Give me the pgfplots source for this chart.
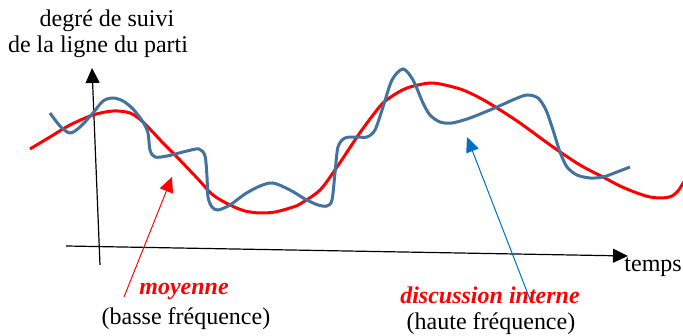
\documentclass[border=0pt]{standalone}
\usepackage{pgfplots}
\pgfplotsset{compat=1.18}
\usepackage{fontspec}
\setmainfont{Liberation Serif}
\usetikzlibrary{arrows.meta}
\definecolor{curveblue}{RGB}{68,114,158}
\definecolor{arrowblue}{RGB}{0,112,192}
\begin{document}
\begin{tikzpicture}
\begin{axis}[at={(0,0)},anchor=south west,
  scale only axis, width=683pt, height=336pt,
  xmin=0, xmax=683, ymin=0, ymax=336, y dir=reverse,
  hide axis, clip=false]
% axes
\addplot[black, line width=1.2pt, -{Triangle[length=15pt,width=14pt]}] coordinates {(100,265) (92,68)};
\addplot[black, line width=1.2pt, -{Triangle[length=15pt,width=14pt]}] coordinates {(66,246) (628,256)};
% moyenne (red)
\addplot[red, line width=3pt, smooth] coordinates {
(30,149) (50,137) (70,125) (93,115) (113,111) (130,113) (143,122) (163,143) (177,157)
(197,178) (213,195) (230,205) (245,211) (260,213) (275,212) (290,208) (300,204) (320,190)
(337,167) (357,137) (370,119) (383,103) (397,93) (410,87) (430,83) (445,85) (463,90)
(480,98) (497,108) (520,123) (553,147) (580,165) (603,177) (620,186) (637,193) (650,197)
(663,198) (672,196) (678,191) (685,180)};
% discussion interne (blue)
\addplot[curveblue, line width=3pt, smooth] coordinates {
(50,113) (60,126) (70,133) (80,127) (93,113) (103,101) (113,98) (123,101) (133,109)
(143,122) (148,133) (150,150) (155,157) (167,156) (187,151) (199,149) (205,156) (207,177)
(208,197) (212,207) (218,210) (230,205) (245,194) (260,186) (273,183) (290,190) (305,199)
(318,205) (327,206) (332,200) (335,173) (338,147) (345,138) (357,137) (367,137) (375,130)
(383,107) (392,80) (403,69) (413,80) (423,103) (430,115) (440,122) (452,123) (470,118)
(497,107) (515,99) (527,95) (538,98) (546,110) (553,130) (560,152) (567,167) (577,175)
(590,178) (603,177) (617,172) (630,167)};
% pointer arrows
\addplot[red, line width=1pt, -{Triangle[length=15pt,width=14pt]}] coordinates {(124,297) (172,177)};
\addplot[arrowblue, line width=1pt, -{Triangle[length=15pt,width=13pt]}] coordinates {(531,302) (467,137)};
% texts
\node[anchor=base, font=\fontsize{24}{27}\selectfont] at (axis cs:107,27) {degré de suivi};
\node[anchor=base, font=\fontsize{24}{27}\selectfont] at (axis cs:98,53) {de la ligne du parti};
\node[anchor=base, text=red, font=\fontsize{24}{27}\selectfont\bfseries\itshape] at (axis cs:184,295) {moyenne};
\node[anchor=base, font=\fontsize{24}{27}\selectfont] at (axis cs:186,325) {(basse fréquence)};
\node[anchor=base, text=red, font=\fontsize{24}{27}\selectfont\bfseries\itshape] at (axis cs:490,304) {discussion interne};
\node[anchor=base, font=\fontsize{24}{27}\selectfont] at (axis cs:491,330) {(haute fréquence)};
\node[anchor=base east, inner sep=0pt, font=\fontsize{24}{27}\selectfont] at (axis cs:682,272) {temps};
\end{axis}
\pgfresetboundingbox
\useasboundingbox (0,0) rectangle (683pt,336pt);
\end{tikzpicture}
\end{document}
